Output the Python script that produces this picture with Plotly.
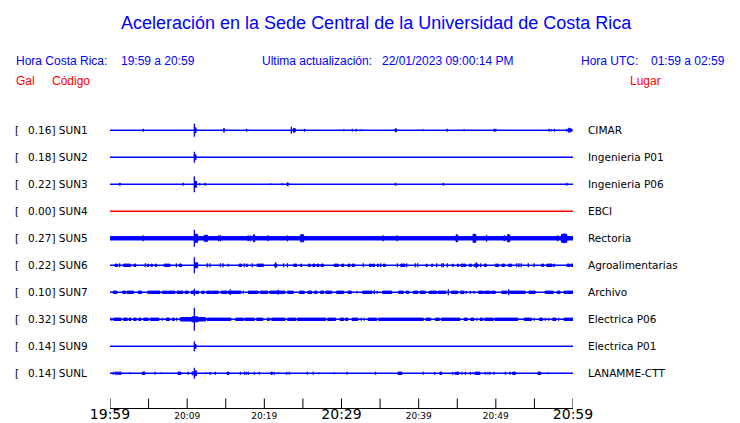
import plotly.graph_objects as go

# ---------------- data ----------------
stations = ["SUN1", "SUN2", "SUN3", "SUN4", "SUN5", "SUN6", "SUN7", "SUN8", "SUN9", "SUNL"]
peak_gal = ["0.16", "0.18", "0.22", "0.00", "0.27", "0.22", "0.10", "0.32", "0.14", "0.14"]
places = ["CIMAR", "Ingenieria P01", "Ingenieria P06", "EBCI", "Rectoria", "Agroalimentarias",
          "Archivo", "Electrica P06", "Electrica P01", "LANAMME-CTT"]

tick_minutes = [0, 5, 10, 15, 20, 25, 30, 35, 40, 45, 50, 55, 60]
tick_labels = ["19:59", "", "20:09", "", "20:19", "", "20:29", "", "20:39", "", "20:49", "", "20:59"]
major_labels = ["19:59", "20:29", "20:59"]

# spikes: (minute after 19:59, half amplitude) ; bursts: (start, end[, half amplitude])
sun1_spikes = [(4.32, 1.5), (10.93, 6.5), (14.77, 2), (17.71, 1.5), (23.5, 3.5), (25.2, 1.5), (30.3, 1),
               (31.4, 1.5), (31.9, 1.5), (32.57, 1), (37.0, 1.5), (40.6, 1), (43.7, 1.5), (45.9, 1),
               (49.8, 1.5), (50.0, 1.5), (56.9, 1.5), (57.2, 1), (57.6, 1.5), (59.2, 1.5), (59.45, 2.5)]
sun1_bursts = [(10.95, 11.15, 2.5), (14.7, 14.85, 1.5), (23.75, 24.0, 1.8), (36.95, 37.1, 1.5), (59.5, 59.8, 1.5)]

sun2_spikes = [(10.93, 5.5)]
sun2_bursts = [(10.95, 11.15, 2.5)]

sun3_spikes = [(9.5, 1.5), (10.93, 8), (11.6, 1), (12.35, 1.5), (20.8, 1), (22.3, 1), (37.0, 1.5),
               (43.2, 1.5), (59.2, 1.5)]
sun3_bursts = [(1.2, 1.35, 1), (10.95, 11.2, 3), (22.95, 23.1, 1.5)]

sun4_spikes = []
sun4_bursts = []

sun5_spikes = [(4.3, 3), (10.93, 8.5), (14.08, 3), (14.3, 3), (17.9, 3), (18.2, 3), (20.5, 3), (23.0, 3),
               (35.4, 3), (37.2, 3), (48.8, 3.5), (51.1, 3), (58.0, 3), (58.9, 5)]
sun5_bursts = [(0, 60, 1.7), (10.95, 11.35, 4), (12.2, 12.65, 3), (18.6, 18.75, 3.5), (24.7, 25.1, 3.5),
               (44.85, 45.05, 3.5), (47.05, 47.4, 4), (51.5, 51.8, 3.5), (58.5, 59.2, 4)]

sun6_spikes = [(1.25, 2), (4.58, 2), (8.6, 2), (10.93, 8), (12.61, 2), (12.96, 2), (14.3, 2), (14.64, 2),
               (15.33, 1.5), (17.41, 2), (18.44, 2), (21.47, 3), (22.5, 2), (22.98, 2), (32.83, 2),
               (35.08, 2), (37.24, 2), (38.44, 2), (39.57, 2), (39.87, 2), (42.33, 2), (42.98, 2), (43.2, 2),
               (43.72, 2), (47.47, 3), (48.03, 2), (52.7, 2), (53.0, 2), (53.3, 2), (54.21, 2), (54.95, 2)]
sun6_bursts = [(0.65, 0.99), (1.73, 2.68), (3.11, 3.37), (4.84, 5.01), (5.31, 5.49), (5.87, 6.05), (7.0, 7.78),
               (8.94, 9.29), (11.0, 11.36, 2.5), (16.72, 17.06), (17.67, 17.84), (19.05, 19.91), (21.3, 21.64),
               (23.8, 24.19), (24.67, 24.84), (25.7, 25.96), (26.26, 26.57), (26.83, 27.08), (27.34, 27.69),
               (29.07, 29.59), (30.02, 30.28), (30.84, 31.1), (31.36, 31.71), (33.61, 33.87), (34.04, 34.3),
               (34.64, 34.82), (35.42, 35.68), (37.67, 38.23), (40.95, 41.12), (41.68, 41.81), (44.36, 44.49),
               (45.01, 45.18), (45.49, 46.09), (46.57, 46.83), (47.21, 47.73), (48.51, 48.81), (49.94, 50.37),
               (50.8, 51.14), (51.66, 52.05), (55.94, 56.2), (56.59, 57.28), (57.45, 57.62), (59.22, 59.61),
               (59.74, 60.0)]

sun7_spikes = [(10.93, 3.5), (15.59, 2.7), (17.28, 1.5), (21.81, 2.5), (32.0, 1.5), (34.25, 2), (34.64, 1.5),
               (43.84, 3), (46.14, 1.5), (46.7, 1.5), (47.17, 1.5), (51.66, 3)]
sun7_bursts = [(0.43, 0.91), (1.64, 2.03), (2.2, 3.07), (3.63, 4.1), (4.88, 6.48), (6.78, 7.47), (7.56, 8.42),
               (8.68, 9.46), (9.72, 10.15), (10.5, 10.93), (11.1, 11.49), (11.88, 12.22), (12.53, 13.05),
               (13.17, 14.04), (14.38, 15.16), (15.33, 16.98), (17.93, 19.22), (19.48, 20.43), (20.69, 22.68),
               (23.02, 23.76), (24.54, 25.18), (25.62, 26.18), (26.48, 26.83), (27.26, 27.69), (27.95, 28.73),
               (29.37, 30.28), (30.84, 31.27), (32.74, 33.95), (35.34, 36.5), (37.41, 38.01), (38.36, 38.7),
               (39.31, 39.91), (40.17, 40.87), (41.38, 42.33), (42.51, 43.54), (44.23, 45.1), (45.4, 45.88),
               (47.77, 48.38), (48.55, 49.29), (49.46, 49.93), (50.76, 51.45), (51.83, 53.8), (54.3, 55.1),
               (56.4, 57.45), (57.97, 58.32), (58.83, 59.09), (59.18, 60.0)]

sun8_spikes = [(0.13, 1.5), (0.43, 1.5), (6.78, 1.5), (8.64, 1.5), (10.93, 11.5), (32.57, 1.5), (32.92, 1.5),
               (47.52, 1.5), (54.97, 1.5), (56.42, 1.5), (56.85, 1.5), (58.14, 1.5)]
sun8_bursts = [(0.56, 1.43), (1.73, 2.25), (2.46, 2.72), (3.07, 3.41), (3.71, 4.02), (4.36, 4.97), (5.23, 6.35),
               (7.26, 7.73), (8.08, 8.34), (9.11, 12.4, 1.7), (10.6, 11.4, 2.5), (12.57, 15.68), (16.29, 17.32),
               (17.49, 18.7), (19.0, 19.83), (20.39, 20.69), (20.95, 22.68), (23.02, 24.06), (24.28, 27.95),
               (28.21, 29.24), (29.8, 30.3), (30.5, 30.84), (31.36, 32.14), (33.43, 34.56), (34.82, 40.6),
               (40.95, 41.56), (42.16, 42.68), (42.94, 45.36), (45.88, 46.31), (46.74, 47.17), (47.95, 48.29),
               (48.55, 49.68), (49.89, 52.87), (53.67, 54.62), (55.66, 56.07), (57.37, 57.8), (58.83, 60.0)]

sun9_spikes = [(10.93, 5)]
sun9_bursts = [(10.95, 11.15, 2)]

sunl_spikes = [(0.43, 1.5), (0.69, 1.5), (0.91, 2), (2.63, 1), (5.83, 1.5), (6.65, 1), (10.15, 1.5), (10.67, 2),
               (10.93, 5.5), (12.48, 1), (12.96, 1.5), (13.65, 1.5), (16.89, 1.5), (17.41, 1.5), (17.67, 1.5),
               (17.93, 1.5), (18.7, 1.5), (19.35, 1.5), (21.3, 1.5), (21.81, 1), (22.89, 1.5), (23.24, 1.5),
               (25.57, 1.5), (26.35, 1.5), (27.04, 1), (29.07, 1), (30.71, 1.5), (34.42, 1.5), (40.6, 1.5),
               (42.07, 1.5), (44.4, 1.5), (44.75, 1.5), (45.62, 1.5), (46.05, 1.5), (46.7, 1.5), (47.08, 1),
               (47.34, 1.5), (48.64, 1.5), (48.98, 1.5), (49.24, 1.5), (49.76, 1.5), (51.23, 1.5), (51.84, 1.5),
               (56.8, 1)]
sunl_bursts = [(1.12, 1.43), (4.19, 4.54), (8.81, 9.2), (10.9, 11.2, 2.5), (15.2, 15.42), (20.86, 21.04),
               (37.32, 37.84), (42.76, 42.98), (44.88, 45.18), (47.43, 47.95), (52.18, 52.53), (55.46, 55.81)]

# ---------------- layout helpers ----------------
W, H = 740, 423
X0, X1 = 110, 573            # pixel extent of the time axis
ROW0, ROW_STEP = 130.3, 27   # vertical placement of the first trace and spacing
AXIS_Y = 409
TICK_LEN = 10
BLUE = "rgb(0,0,255)"
RED = "rgb(255,0,0)"
DEFAULT_HALF = 1.2

all_spikes = [sun1_spikes, sun2_spikes, sun3_spikes, sun4_spikes, sun5_spikes,
              sun6_spikes, sun7_spikes, sun8_spikes, sun9_spikes, sunl_spikes]
all_bursts = [sun1_bursts, sun2_bursts, sun3_bursts, sun4_bursts, sun5_bursts,
              sun6_bursts, sun7_bursts, sun8_bursts, sun9_bursts, sunl_bursts]


def px(x):
    return x / W


def py(y):
    return 1 - y / H


fig = go.Figure()

for i, name in enumerate(stations):
    y0 = ROW0 + ROW_STEP * i
    color = RED if peak_gal[i] == "0.00" else BLUE
    # baseline
    fig.add_trace(go.Scatter(x=[tick_minutes[0], tick_minutes[-1]], y=[y0, y0], mode="lines",
                             line=dict(color=color, width=1.5), hoverinfo="skip", showlegend=False))
    # bursts as filled boxes
    bx, by = [], []
    for b in all_bursts[i]:
        t0, t1 = b[0], b[1]
        h = b[2] if len(b) > 2 else DEFAULT_HALF
        bx += [t0, t1, t1, t0, t0, None]
        by += [y0 - h, y0 - h, y0 + h, y0 + h, y0 - h, None]
    if bx:
        fig.add_trace(go.Scatter(x=bx, y=by, mode="lines", fill="toself", fillcolor=color,
                                 line=dict(color=color, width=1), hoverinfo="skip", showlegend=False))
    # spikes as vertical strokes
    sx, sy = [], []
    for t, a in all_spikes[i]:
        sx += [t, t, None]
        sy += [y0 - a, y0 + a, None]
    if sx:
        fig.add_trace(go.Scatter(x=sx, y=sy, mode="lines", line=dict(color=color, width=1.3),
                                 hoverinfo="skip", showlegend=False))

# time axis line and its tick marks (pointing upward)
ax_x = [tick_minutes[0], tick_minutes[-1], None]
ax_y = [AXIS_Y - 0.5, AXIS_Y - 0.5, None]
for t in tick_minutes:
    ax_x += [t, t, None]
    ax_y += [AXIS_Y - 0.5, AXIS_Y - 0.5 - TICK_LEN, None]
fig.add_trace(go.Scatter(x=ax_x, y=ax_y, mode="lines", line=dict(color="black", width=1),
                         hoverinfo="skip", showlegend=False))

annotations = []


def txt(x, y, s, size, color, font="Liberation Sans", anchor="left"):
    annotations.append(dict(x=px(x), y=py(y), xref="paper", yref="paper", text=s, showarrow=False,
                            xanchor=anchor, yanchor="middle", borderpad=0,
                            font=dict(family=font, size=size, color=color)))


txt(376.5, 23, "Aceleración en la Sede Central de la Universidad de Costa Rica", 18, BLUE, anchor="center")
txt(15, 61, "Hora Costa Rica:", 12, BLUE)
txt(120, 61, "19:59 a 20:59", 12, BLUE)
txt(261, 61, "Ultima actualización:", 12, BLUE)
txt(381, 61, "22/01/2023 09:00:14 PM", 12, BLUE)
txt(580, 61, "Hora UTC:", 12, BLUE)
txt(650, 61, "01:59 a 02:59", 12, BLUE)
txt(15, 81, "Gal", 12, RED)
txt(51, 81, "Código", 12, RED)
txt(629, 81, "Lugar", 12, RED)

for i, name in enumerate(stations):
    y0 = ROW0 + ROW_STEP * i
    txt(14, y0, "[", 10.5, "black", font="DejaVu Sans")
    txt(27, y0, f"{peak_gal[i]}] {name}", 10.5, "black", font="DejaVu Sans")
    txt(587, y0, places[i], 10.5, "black", font="DejaVu Sans")

ticktext = [f"<span style='font-size:14px'>{t}</span>" if t in major_labels else t for t in tick_labels]

fig.update_layout(
    width=W, height=H, autosize=False,
    margin=dict(l=0, r=0, t=0, b=0, pad=0, autoexpand=False),
    paper_bgcolor="white", plot_bgcolor="white",
    showlegend=False,
    annotations=annotations,
    xaxis=dict(domain=[px(X0), px(X1)], range=[tick_minutes[0], tick_minutes[-1]],
               anchor="y", automargin=False, showline=False, ticks="",
               tickmode="array", tickvals=tick_minutes, ticktext=ticktext,
               tickfont=dict(family="DejaVu Sans", size=9, color="black"),
               showgrid=False, zeroline=False, fixedrange=True),
    yaxis=dict(domain=[py(AXIS_Y), 1], range=[AXIS_Y, 0], visible=False, automargin=False,
               showgrid=False, zeroline=False, fixedrange=True),
)

fig.write_html(
    "out.html",
    config={"displayModeBar": False, "responsive": False},
    default_width="740px", default_height="423px",
    post_script="document.body.style.margin='0';document.body.style.padding='0';"
                "document.documentElement.style.overflow='hidden';document.body.style.overflow='hidden';",
)
